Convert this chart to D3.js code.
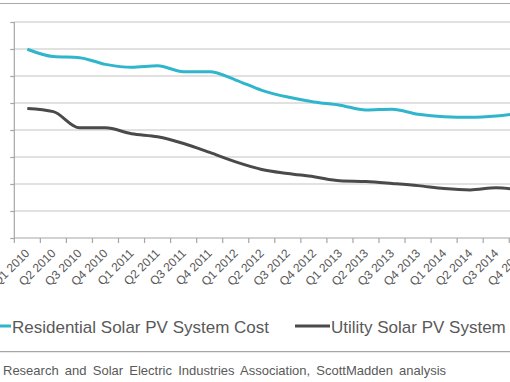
<!DOCTYPE html>
<html><head><meta charset="utf-8">
<script src="https://cdn.jsdelivr.net/npm/d3@7"></script>
<style>
html,body{margin:0;padding:0;background:#fff;overflow:hidden;}
svg{display:block;font-family:"Liberation Sans",Arial,sans-serif;}
</style></head>
<body>
<script>
const categories = ["Q1 2010","Q2 2010","Q3 2010","Q4 2010","Q1 2011","Q2 2011","Q3 2011","Q4 2011",
  "Q1 2012","Q2 2012","Q3 2012","Q4 2012","Q1 2013","Q2 2013","Q3 2013","Q4 2013",
  "Q1 2014","Q2 2014","Q3 2014","Q4 2014"];
const residential = [6.99,6.72,6.68,6.43,6.32,6.38,6.16,6.16,5.85,5.47,5.22,5.04,4.92,4.74,4.77,4.58,4.49,4.47,4.52,4.64];
const utility = [4.80,4.68,4.08,4.08,3.86,3.75,3.50,3.17,2.82,2.54,2.39,2.27,2.12,2.09,2.02,1.94,1.83,1.78,1.86,1.76];
const yTicks = [0,1,2,3,4,5,6,7,8];
const seriesNames = ["Residential Solar PV System Cost","Utility Solar PV System"];
const footerText = "Research and Solar Electric Industries Association, ScottMadden analysis";

(function(){
const W = 510, H = 382;
const colors = ["#2fb5cc", "#4a4a4a"];
const svg = d3.select("body").append("svg").attr("width", W).attr("height", H);

const plotLeft = 14.3, band = 26.05, plotTop = 22, plotBottom = 238;
const x = d3.scaleBand().domain(categories).range([plotLeft, plotLeft + band * categories.length]).padding(0);
const y = d3.scaleLinear().domain([0, 8]).range([plotBottom, plotTop]);

// top frame line
svg.append("line").attr("x1", 0).attr("x2", W).attr("y1", 3.5).attr("y2", 3.5)
  .attr("stroke", "#a9a9a9").attr("stroke-width", 1.2);

// gridlines
svg.append("g").selectAll("line").data(yTicks.filter(d => d > 0)).join("line")
  .attr("x1", plotLeft).attr("x2", W)
  .attr("y1", d => y(d)).attr("y2", d => y(d))
  .attr("stroke", "#c3c3c3").attr("stroke-width", 1.2);

// y axis
const yAxis = d3.axisLeft(y).tickValues(yTicks).tickSize(4).tickFormat("");
svg.append("g").attr("transform", `translate(${plotLeft},0)`).call(yAxis)
  .call(g => g.selectAll("path,line").attr("stroke", "#a6a6a6").attr("stroke-width", 1.2))
  .call(g => g.select(".domain").attr("d", `M0,${plotTop}V${plotBottom}`));

// x axis with ticks on band boundaries
const xg = svg.append("g").attr("transform", `translate(0,${plotBottom})`);
xg.append("line").attr("x1", plotLeft).attr("x2", W).attr("y1", 0).attr("y2", 0)
  .attr("stroke", "#a6a6a6").attr("stroke-width", 1.2);
xg.selectAll("line.tick").data(categories).join("line").attr("class", "tick")
  .attr("x1", d => x(d)).attr("x2", d => x(d)).attr("y1", 0).attr("y2", 5)
  .attr("stroke", "#a6a6a6").attr("stroke-width", 1.2);
xg.selectAll("text").data(categories).join("text")
  .attr("transform", d => `translate(${x(d) + x.bandwidth() / 2 + 3},${16}) rotate(-45)`)
  .attr("text-anchor", "end").attr("font-size", 12).attr("fill", "#595959")
  .text(d => d);

// lines
const line = d3.line().x((d, i) => x(categories[i]) + x.bandwidth() / 2).y(d => y(d)).curve(d3.curveMonotoneX);
[residential, utility].forEach((s, k) => {
  svg.append("path").datum(s).attr("d", line).attr("fill", "none")
    .attr("stroke", colors[k]).attr("stroke-width", 3).attr("stroke-linejoin", "round");
});

// legend
const leg = svg.append("g");
const legItems = [{x: -24, name: seriesNames[0], c: colors[0]}, {x: 295, name: seriesNames[1], c: colors[1]}];
legItems.forEach(it => {
  leg.append("line").attr("x1", it.x).attr("x2", it.x + 35).attr("y1", 326).attr("y2", 326)
    .attr("stroke", it.c).attr("stroke-width", 3);
  leg.append("text").attr("x", it.x + 36).attr("y", 332.5).attr("font-size", 17).attr("fill", "#595959").text(it.name);
});

// separator
svg.append("line").attr("x1", 0).attr("x2", W).attr("y1", 351.7).attr("y2", 351.7)
  .attr("stroke", "#a6a6a6").attr("stroke-width", 1.3);

// footer
svg.append("text").attr("x", 3).attr("y", 375).attr("font-size", 13).attr("fill", "#595959")
  .attr("word-spacing", 2.6).text(footerText);
})();
</script>
</body></html>
